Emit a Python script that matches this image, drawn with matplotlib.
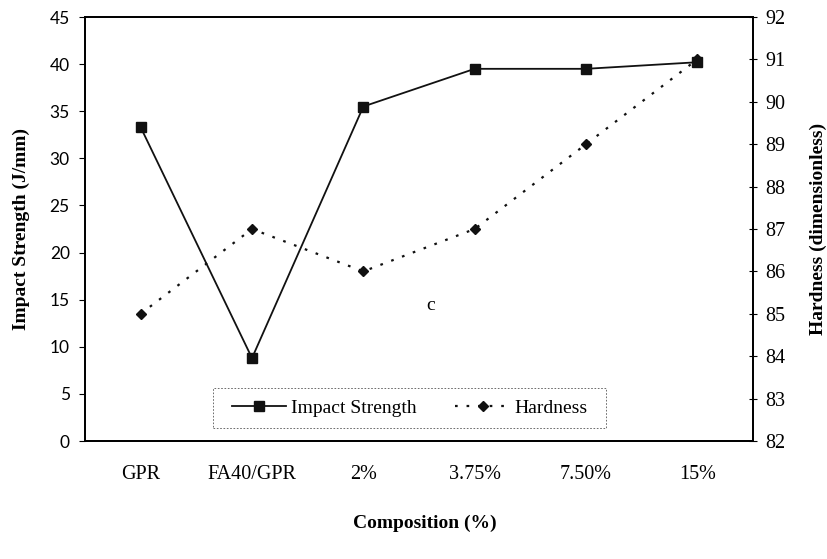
import numpy as np
import matplotlib
matplotlib.use('Agg')
import matplotlib.pyplot as plt
from matplotlib.patches import Rectangle

# data
categories = ['GPR', 'FA40/GPR', '2%', '3.75%', '7.50%', '15%']
impact = [33.3, 8.8, 35.5, 39.5, 39.5, 40.2]
hardness = [85, 87, 86, 87, 89, 91]

plt.rcParams['font.family'] = ['Liberation Serif', 'DejaVu Serif']

fig = plt.figure(figsize=(8.27, 5.59), dpi=100)
ax = fig.add_axes([85/827, 1-441/559, 668/827, 424/559])
ax2 = ax.twinx()

x = np.arange(len(categories))
ax.plot(x, impact, color='#111111', lw=1.3, marker='s', markersize=7.5,
        label='Impact Strength', zorder=3)
ax2.plot(x, hardness, color='#111111', lw=1.6, ls=(0, (1.2, 4)), marker='D',
         markersize=5.5, label='Hardness')

ax.set_xlim(-0.5, len(categories)-0.5)
ax.set_ylim(0, 45)
ax.set_yticks(np.arange(0, 46, 5))
ax2.set_ylim(82, 92)
ax2.set_yticks(np.arange(82, 93, 1))
ax.set_xticks(x)
ax.set_xticklabels(categories, fontsize=14.5)
ax.tick_params(axis='x', length=0, pad=17)
# left tick numbers are in a sans face in the original
ax.tick_params(axis='y', labelsize=12.5, length=4, direction='out', pad=7)
for lab in ax.get_yticklabels():
    lab.set_family('Lato')
ax2.tick_params(axis='y', labelsize=14.5, length=6, direction='inout', pad=6)

for a in (ax, ax2):
    for s in a.spines.values():
        s.set_linewidth(1.3)

ax.set_ylabel('Impact Strength (J/mm)', fontsize=14, fontweight='bold', labelpad=14)
ax2.set_ylabel('Hardness (dimensionless)', fontsize=14, fontweight='bold', labelpad=17)
fig.text(425/827, 1-523/559, 'Composition (%)', fontsize=14, fontweight='bold',
         ha='center', va='center')
ax.text(2.6, 14.4, 'c', fontsize=14, ha='center', va='center')

# legend box drawn separately (wide side padding, thin dotted border)
ax2.add_patch(Rectangle((0.192, 0.031), 0.588, 0.094, transform=ax2.transAxes,
                        fill=True, facecolor='white', edgecolor='#555555',
                        lw=0.6, ls=(0, (2, 2)), zorder=4))
h1, l1 = ax.get_legend_handles_labels()
h2, l2 = ax2.get_legend_handles_labels()
leg = ax2.legend(h1 + h2, l1 + l2, ncol=2, loc='center',
                 bbox_to_anchor=(0.486, 0.078), frameon=False,
                 fontsize=14, handlelength=2.8, handletextpad=0.25,
                 columnspacing=2.0, borderaxespad=0, borderpad=0)
leg.set_zorder(5)

fig.savefig('out.png', dpi=100)
